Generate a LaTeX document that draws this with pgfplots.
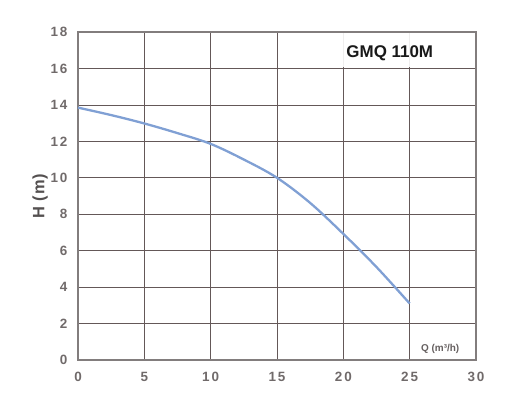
\documentclass[border=0pt]{standalone}
\usepackage{fontspec}
\setmainfont{Liberation Sans}
\usepackage{pgfplots}
\pgfplotsset{compat=1.18}
\definecolor{gridc}{RGB}{100,88,88}
\definecolor{framec}{RGB}{130,125,125}
\definecolor{tickc}{RGB}{112,106,106}
\definecolor{curvec}{RGB}{128,160,212}
\begin{document}
\begin{tikzpicture}
\begin{axis}[
  name=ax,
  scale only axis,
  width=398bp, height=328bp,
  xmin=0, xmax=30, ymin=0, ymax=18,
  xtick={0,5,...,30}, ytick={0,2,...,18},
  grid=major,
  major grid style={draw=gridc, line width=0.75pt},
  axis line style={draw=framec, line width=2.4pt},
  major tick length=0pt,
  /pgf/number format/assume math mode=true,
  tick label style={font=\fontsize{13.5}{14}\selectfont\bfseries\addfontfeature{LetterSpace=14}, text=tickc},
  xticklabel style={yshift=-9bp},
  yticklabel style={xshift=-7bp},
  ylabel={H (m)},
  ylabel style={font=\fontsize{16.5}{17}\selectfont\bfseries\addfontfeature{LetterSpace=6}, text=tickc!75!black, yshift=-4bp},
  clip=false,
]
\addplot[draw=curvec, line width=2.3pt, smooth, tension=0.55] coordinates {
 (0,13.85) (2.5,13.44) (5,12.98) (7.5,12.45) (10,11.86) (12.5,11.0) (15,10.0) (17.5,8.62) (20,6.92) (22.5,5.1) (25,3.1)
};
\fill[white, opacity=0.9] (axis cs:17.6,16.07) rectangle (axis cs:29.75,17.93);
\node[font=\fontsize{17}{18}\selectfont\bfseries, text=black!90] at (axis cs:23.5,16.85) {GMQ 110M};
\node[font=\fontsize{10}{11}\selectfont\bfseries, text=tickc!90!black] at (axis cs:27.3,0.6) {Q (m³/h)};
\end{axis}
\path ([shift={(-78bp,-48bp)}]ax.south west) rectangle ([shift={(53bp,32bp)}]ax.north east);
\end{tikzpicture}
\end{document}
